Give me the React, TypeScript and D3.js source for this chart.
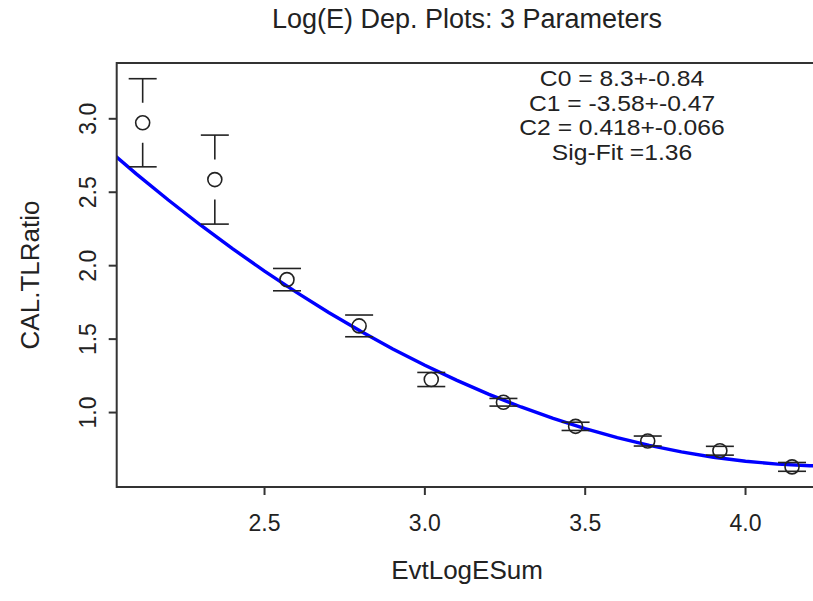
import React from "react";
import * as d3 from "d3";

const xValues = [2.12, 2.345, 2.57, 2.795, 3.02, 3.245, 3.47, 3.695, 3.92, 4.145];
const yValues = [2.973, 2.586, 1.905, 1.59, 1.225, 1.07, 0.906, 0.806, 0.74, 0.63];
const yErrors = [0.3, 0.303, 0.076, 0.074, 0.048, 0.026, 0.028, 0.034, 0.03, 0.03];

const fitX = [2.0, 2.1, 2.2, 2.3, 2.4, 2.5, 2.6, 2.7, 2.8, 2.9, 3.0, 3.1, 3.2, 3.3, 3.4, 3.5, 3.6, 3.7, 3.8, 3.9, 4.0, 4.1, 4.2, 4.3];
const fitY = [2.812, 2.625, 2.447, 2.277, 2.116, 1.963, 1.818, 1.681, 1.553, 1.433, 1.322, 1.219, 1.124, 1.038, 0.96, 0.891, 0.829, 0.776, 0.732, 0.696, 0.668, 0.649, 0.638, 0.635];

const xTicks = [2.5, 3.0, 3.5, 4.0];
const yTicks = [1.0, 1.5, 2.0, 2.5, 3.0];

const titleText = "Log(E) Dep. Plots: 3 Parameters";
const xLabel = "EvtLogESum";
const yLabel = "CAL.TLRatio";
const annotations = ["C0 = 8.3+-0.84", "C1 = -3.58+-0.47", "C2 = 0.418+-0.066", "Sig-Fit =1.36"];

const W = 813;
const H = 601;
const left = 116.7;
const right = 818;
const top = 63;
const bottom = 487;

export default function App() {
  const xr = d3.max(xValues)! - d3.min(xValues)!;
  const xScale = d3
    .scaleLinear()
    .domain([d3.min(xValues)! - 0.04 * xr, d3.max(xValues)! + 0.04 * xr])
    .range([left, right]);
  const lows = yValues.map((v, i) => v - yErrors[i]);
  const highs = yValues.map((v, i) => v + yErrors[i]);
  const yMin = d3.min(lows)!;
  const yMax = d3.max(highs)!;
  const yr = yMax - yMin;
  const yScale = d3
    .scaleLinear()
    .domain([yMin - 0.04 * yr, yMax + 0.04 * yr])
    .range([bottom, top]);

  const line = d3
    .line<number>()
    .x((_, i) => xScale(fitX[i]))
    .y((d) => yScale(d));

  const ink = "#222";
  const font = "'Liberation Sans', Arial, sans-serif";
  const gap = 20;
  const capHalf = 14;
  const r = 7;

  return (
    <div style={{ position: "absolute", left: 0, top: 0 }}>
      <svg width={W} height={H} style={{ display: "block", background: "#fff" }}>
        <rect x={0} y={0} width={W} height={H} fill="#fff" />
        <defs>
          <clipPath id="plotclip">
            <rect x={left} y={top} width={right - left} height={bottom - top} />
          </clipPath>
        </defs>
        <text x={467} y={28} textAnchor="middle" fontFamily={font} fontSize={27} fill={ink}>
          {titleText}
        </text>
        {/* fit curve */}
        <path d={line(fitY) || ""} fill="none" stroke="#0000ff" strokeWidth={3.4} clipPath="url(#plotclip)" />
        {/* points with error bars */}
        {xValues.map((xv, i) => {
          const cx = xScale(xv);
          const cy = yScale(yValues[i]);
          const yTop = yScale(yValues[i] + yErrors[i]);
          const yBot = yScale(yValues[i] - yErrors[i]);
          return (
            <g key={i} stroke={ink} strokeWidth={1.6} fill="none">
              <circle cx={cx} cy={cy} r={r} />
              {cy - yTop > gap && <line x1={cx} x2={cx} y1={yTop} y2={cy - gap} />}
              {yBot - cy > gap && <line x1={cx} x2={cx} y1={cy + gap} y2={yBot} />}
              <line x1={cx - capHalf} x2={cx + capHalf} y1={yTop} y2={yTop} />
              <line x1={cx - capHalf} x2={cx + capHalf} y1={yBot} y2={yBot} />
            </g>
          );
        })}
        {/* box */}
        <rect x={left} y={top} width={right - left} height={bottom - top} fill="none" stroke="#333" strokeWidth={2} />
        {/* x axis ticks */}
        {xTicks.map((t) => (
          <g key={t}>
            <line x1={xScale(t)} x2={xScale(t)} y1={bottom} y2={bottom + 8} stroke="#333" strokeWidth={2} />
            <text x={xScale(t)} y={531} textAnchor="middle" fontFamily={font} fontSize={23} fill={ink}>
              {t.toFixed(1)}
            </text>
          </g>
        ))}
        {/* y axis ticks */}
        {yTicks.map((t) => (
          <g key={t}>
            <line x1={left - 8} x2={left} y1={yScale(t)} y2={yScale(t)} stroke="#333" strokeWidth={2} />
            <text
              transform={`translate(96,${yScale(t)}) rotate(-90)`}
              textAnchor="middle"
              fontFamily={font}
              fontSize={23}
              fill={ink}
            >
              {t.toFixed(1)}
            </text>
          </g>
        ))}
        <text x={467} y={579} textAnchor="middle" fontFamily={font} fontSize={26} fill={ink}>
          {xLabel}
        </text>
        <text transform={`translate(39,275) rotate(-90)`} textAnchor="middle" fontFamily={font} fontSize={26} fill={ink}>
          {yLabel}
        </text>
        {annotations.map((a, i) => (
          <text
            key={i}
            transform={`translate(622,${86 + i * 24.5}) scale(1.12,1)`}
            textAnchor="middle"
            fontFamily={font}
            fontSize={22}
            fill={ink}
          >
            {a}
          </text>
        ))}
      </svg>
    </div>
  );
}
